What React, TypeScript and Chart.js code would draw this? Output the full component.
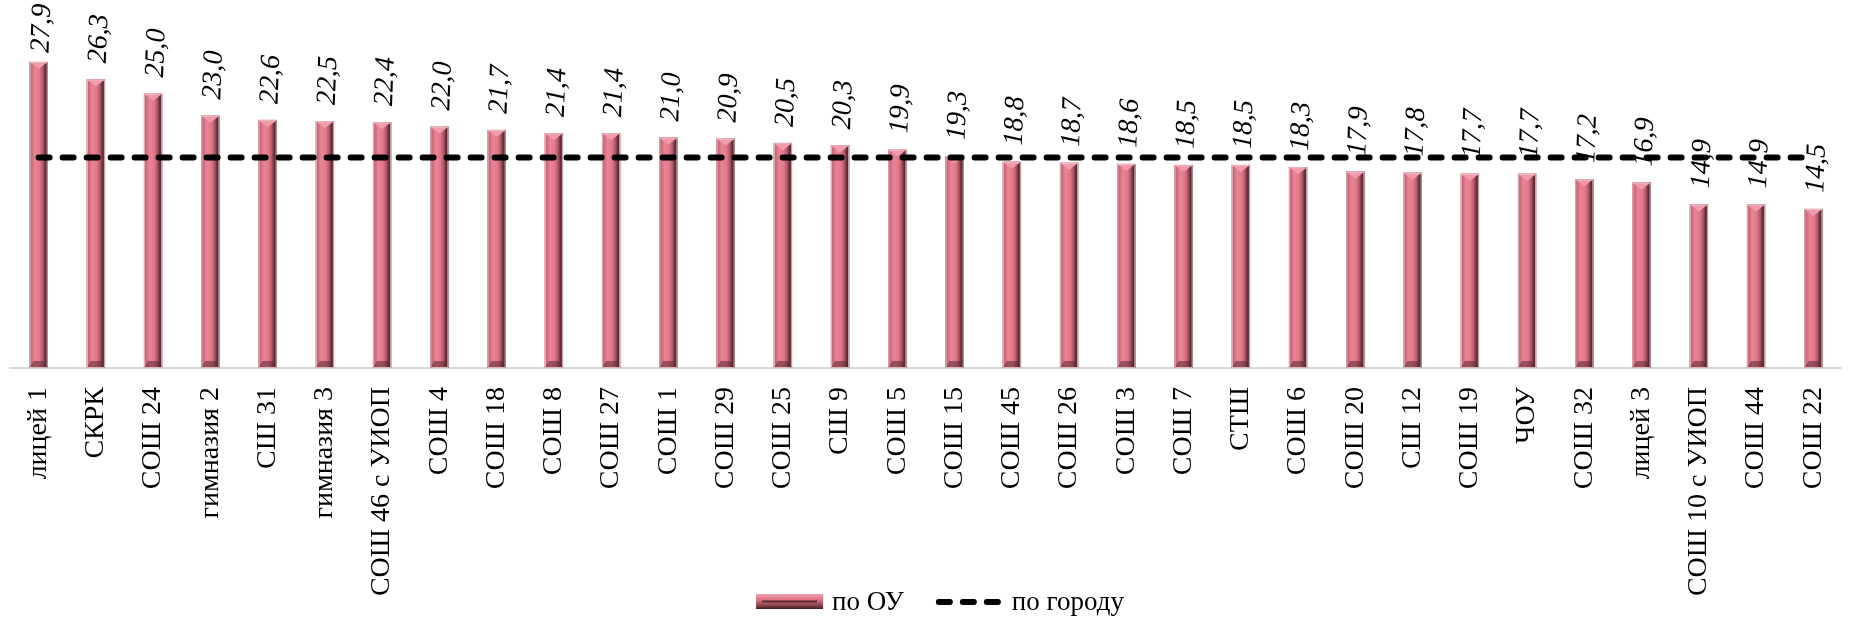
import React, { useEffect, useRef } from "react";
import { Chart, registerables } from "chart.js";

Chart.register(...registerables);

const categories: string[] = [
  "лицей 1", "СКРК", "СОШ 24", "гимназия 2", "СШ 31", "гимназия 3", "СОШ 46 с УИОП", "СОШ 4",
  "СОШ 18", "СОШ 8", "СОШ 27", "СОШ 1", "СОШ 29", "СОШ 25", "СШ 9", "СОШ 5",
  "СОШ 15", "СОШ 45", "СОШ 26", "СОШ 3", "СОШ 7", "СТШ", "СОШ 6", "СОШ 20",
  "СШ 12", "СОШ 19", "ЧОУ", "СОШ 32", "лицей 3", "СОШ 10 с УИОП", "СОШ 44", "СОШ 22",
];

const schoolValues: number[] = [
  27.9, 26.3, 25.0, 23.0, 22.6, 22.5, 22.4, 22.0,
  21.7, 21.4, 21.4, 21.0, 20.9, 20.5, 20.3, 19.9,
  19.3, 18.8, 18.7, 18.6, 18.5, 18.5, 18.3, 17.9,
  17.8, 17.7, 17.7, 17.2, 16.9, 14.9, 14.9, 14.5,
];

const cityValue = 19.2;
const cityValues: number[] = categories.map(() => cityValue);

const seriesNames: string[] = ["по ОУ", "по городу"];

const SERIF = "'Liberation Serif', 'Times New Roman', serif";
const fmt = (v: number) => v.toFixed(1).replace(".", ",");

function paintBevelBar(ctx: CanvasRenderingContext2D, left: number, top: number, w: number, h: number) {
  const g = ctx.createLinearGradient(left, 0, left + w, 0);
  g.addColorStop(0, "#b45a69");
  g.addColorStop(0.14, "#cf6e7e");
  g.addColorStop(0.3, "#ea8596");
  g.addColorStop(0.55, "#e27888");
  g.addColorStop(0.72, "#b25d6b");
  g.addColorStop(0.86, "#6a3039");
  g.addColorStop(1, "#3f1c22");
  ctx.fillStyle = g;
  ctx.fillRect(left, top, w, h);
  const cap = Math.min(7, h / 2);
  ctx.beginPath();
  ctx.moveTo(left, top);
  ctx.lineTo(left + w, top);
  ctx.lineTo(left + w / 2, top + cap);
  ctx.closePath();
  ctx.fillStyle = "#f19aaa";
  ctx.fill();
  const bot = top + h;
  ctx.beginPath();
  ctx.moveTo(left, bot);
  ctx.lineTo(left + w, bot);
  ctx.lineTo(left + w * 0.78, bot - cap);
  ctx.lineTo(left + w * 0.22, bot - cap);
  ctx.closePath();
  ctx.fillStyle = "rgba(90,40,48,0.55)";
  ctx.fill();
  ctx.strokeStyle = "rgba(225,195,200,0.9)";
  ctx.lineWidth = 1;
  ctx.strokeRect(left + 0.5, top + 0.5, w - 1, h - 1);
}

function paintBevelBarH(ctx: CanvasRenderingContext2D, left: number, top: number, w: number, h: number) {
  const g = ctx.createLinearGradient(0, top, 0, top + h);
  g.addColorStop(0, "#f0a0ae");
  g.addColorStop(0.35, "#e27888");
  g.addColorStop(0.7, "#9a4b58");
  g.addColorStop(1, "#3f1c22");
  ctx.fillStyle = g;
  ctx.fillRect(left, top, w, h);
  ctx.fillStyle = "#5a2830";
  ctx.fillRect(left + 6, top + h / 2 - 1, w - 12, 2);
}

const bevelPlugin = {
  id: "bevelBars",
  afterDatasetDraw(chart: any, args: any) {
    if (args.index !== 0) return;
    const ctx = chart.ctx as CanvasRenderingContext2D;
    const meta = chart.getDatasetMeta(0);
    ctx.save();
    meta.data.forEach((el: any) => {
      const w = el.width;
      const left = el.x - w / 2;
      const top = Math.min(el.y, el.base);
      const h = Math.abs(el.base - el.y);
      paintBevelBar(ctx, left, top, w, h);
    });
    ctx.restore();
  },
};

const LABEL_ANGLE = (-88 * Math.PI) / 180;

const valueLabelPlugin = {
  id: "valueLabels",
  afterDatasetsDraw(chart: any) {
    const ctx = chart.ctx as CanvasRenderingContext2D;
    const meta = chart.getDatasetMeta(0);
    const data = chart.data.datasets[0].data as number[];
    ctx.save();
    ctx.font = `italic 28px ${SERIF}`;
    ctx.fillStyle = "#000";
    ctx.textAlign = "left";
    ctx.textBaseline = "alphabetic";
    meta.data.forEach((el: any, i: number) => {
      const text = fmt(data[i]);
      const len = ctx.measureText(text).width;
      let start = el.y - 16;
      if (start - len < 4) start = 4 + len;
      ctx.save();
      ctx.translate(el.x + 10, start);
      ctx.rotate(LABEL_ANGLE);
      ctx.fillText(text, 0, 0);
      ctx.restore();
    });
    ctx.restore();
  },
};

const legendPlugin = {
  id: "customLegend",
  afterDraw(chart: any) {
    const ctx = chart.ctx as CanvasRenderingContext2D;
    ctx.save();
    ctx.font = `27px ${SERIF}`;
    ctx.textBaseline = "middle";
    ctx.textAlign = "left";
    const boxW = 67;
    const gapText = 9;
    const gapItems = 32;
    const w1 = ctx.measureText(seriesNames[0]).width;
    const w2 = ctx.measureText(seriesNames[1]).width;
    const total = boxW + gapText + w1 + gapItems + boxW + gapText + w2;
    const cx = 940;
    const cy = 602;
    let x = cx - total / 2;
    paintBevelBarH(ctx, x, cy - 8, boxW, 15);
    x += boxW + gapText;
    ctx.fillStyle = "#000";
    ctx.fillText(seriesNames[0], x, cy + 1);
    x += w1 + gapItems;
    ctx.strokeStyle = "#000";
    ctx.lineWidth = 6;
    ctx.lineCap = "round";
    ctx.setLineDash([11, 13]);
    ctx.beginPath();
    ctx.moveTo(x + 3, cy);
    ctx.lineTo(x + boxW - 3, cy);
    ctx.stroke();
    ctx.setLineDash([]);
    x += boxW + gapText;
    ctx.fillText(seriesNames[1], x, cy + 1);
    ctx.restore();
  },
};

export default function App() {
  const canvasRef = useRef<HTMLCanvasElement | null>(null);

  useEffect(() => {
    if (!canvasRef.current) return;
    const chart = new Chart(canvasRef.current, {
      type: "bar",
      data: {
        labels: categories,
        datasets: [
          {
            type: "bar",
            label: seriesNames[0],
            data: schoolValues,
            backgroundColor: "#e27888",
            barThickness: 18,
            order: 2,
          },
          {
            type: "line",
            label: seriesNames[1],
            data: cityValues,
            borderColor: "#000",
            borderWidth: 6,
            borderDash: [11, 13],
            borderCapStyle: "round",
            pointRadius: 0,
            fill: false,
            order: 1,
          } as any,
        ],
      },
      options: {
        animation: false,
        responsive: false,
        events: [],
        layout: { padding: { top: 39, left: 10, right: 4, bottom: 0 } },
        plugins: {
          legend: { display: false },
          tooltip: { enabled: false },
        },
        scales: {
          x: {
            offset: true,
            grid: { display: false, drawTicks: false },
            border: { display: true, color: "#d9d9d9", width: 2 },
            ticks: {
              minRotation: 90,
              maxRotation: 90,
              autoSkip: false,
              padding: 19,
              color: "#000",
              font: { family: SERIF, size: 28 },
            },
            afterFit(scale: any) {
              scale.height = 620 - 368;
            },
          },
          y: {
            display: false,
            min: 0,
            max: 30,
          },
        },
      },
      plugins: [bevelPlugin, valueLabelPlugin, legendPlugin],
    });
    return () => chart.destroy();
  }, []);

  return (
    <div
      style={{
        position: "absolute",
        left: 0,
        top: 0,
        width: 1858,
        height: 620,
        overflow: "hidden",
        background: "#fff",
      }}
    >
      <canvas ref={canvasRef} width={1866} height={620} style={{ display: "block" }} />
    </div>
  );
}
